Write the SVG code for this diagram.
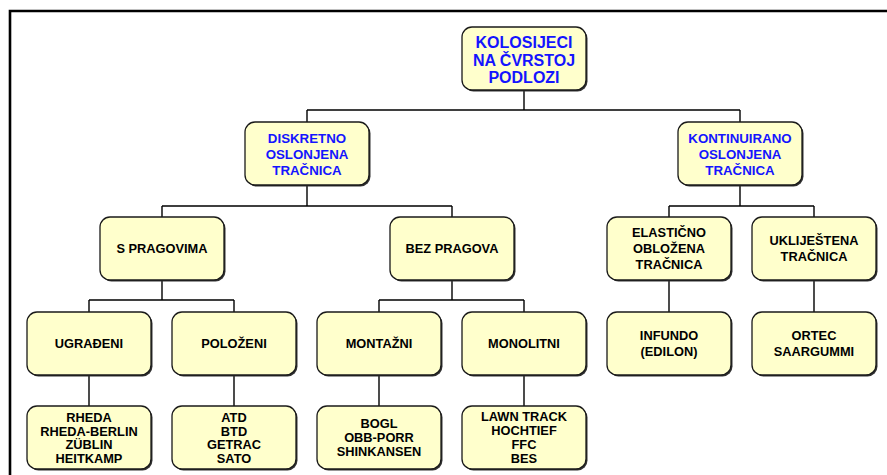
<svg xmlns="http://www.w3.org/2000/svg" width="887" height="475" viewBox="0 0 887 475">
<style>
.sh{fill:#333333}
.bx{fill:#ffffcc;stroke:#1a1a1a;stroke-width:1.3}
.t{font-family:"Liberation Sans",Arial,sans-serif;font-weight:bold;font-size:12.8px;fill:#000;text-anchor:middle}
.b{fill:#1414ff;font-size:13.3px}
.top{font-size:16px}
.c{fill:none;stroke:#000;stroke-width:1.4}
</style>
<rect width="887" height="475" fill="#fff"/>
<path d="M10 475 V11 H887" fill="none" stroke="#000" stroke-width="2.6"/>
<g id="connectors" class="c">
<path d="M524 91 V110 M307 110 H740 M307 110 V122 M740 110 V122"/>
<path d="M307 185 V206 M162 206 H452 M162 206 V217 M452 206 V217"/>
<path d="M740 185 V206 M669 206 H814 M669 206 V217 M814 206 V217"/>
<path d="M162 280 V300 M89 300 H234 M89 300 V312 M234 300 V312"/>
<path d="M452 280 V300 M379 300 H524 M379 300 V312 M524 300 V312"/>
<path d="M669 280 V312 M814 280 V312"/>
<path d="M89 375 V406 M234 375 V406 M379 375 V406 M524 375 V406"/>
</g>
<g id="n-root"><rect class="sh" x="463.5" y="28.5" width="124" height="63" rx="10"/><rect class="bx" x="462" y="27" width="124" height="63" rx="10"/>
<text class="t b top" x="524" y="48">KOLOSIJECI</text><text class="t b top" x="524" y="65.5">NA ČVRSTOJ</text><text class="t b top" x="524" y="83">PODLOZI</text></g>
<g id="n-diskretno"><rect class="sh" x="246.5" y="123.5" width="124" height="63" rx="10"/><rect class="bx" x="245" y="122" width="124" height="63" rx="10"/>
<text class="t b" x="307" y="142.8">DISKRETNO</text><text class="t b" x="307" y="158.8">OSLONJENA</text><text class="t b" x="307" y="174.8">TRAČNICA</text></g>
<g id="n-kontinuirano"><rect class="sh" x="679.5" y="123.5" width="124" height="63" rx="10"/><rect class="bx" x="678" y="122" width="124" height="63" rx="10"/>
<text class="t b" x="740" y="142.8">KONTINUIRANO</text><text class="t b" x="740" y="158.8">OSLONJENA</text><text class="t b" x="740" y="174.8">TRAČNICA</text></g>
<g id="n-spragovima"><rect class="sh" x="101.5" y="218.5" width="124" height="63" rx="10"/><rect class="bx" x="100" y="217" width="124" height="63" rx="10"/>
<text class="t" x="162" y="253.3">S PRAGOVIMA</text></g>
<g id="n-bezpragova"><rect class="sh" x="391.5" y="218.5" width="124" height="63" rx="10"/><rect class="bx" x="390" y="217" width="124" height="63" rx="10"/>
<text class="t" x="452" y="253.3">BEZ PRAGOVA</text></g>
<g id="n-elasticno"><rect class="sh" x="608.5" y="218.5" width="124" height="63" rx="10"/><rect class="bx" x="607" y="217" width="124" height="63" rx="10"/>
<text class="t" x="669" y="237">ELASTIČNO</text><text class="t" x="669" y="253">OBLOŽENA</text><text class="t" x="669" y="269">TRAČNICA</text></g>
<g id="n-uklijestena"><rect class="sh" x="753.5" y="218.5" width="124" height="63" rx="10"/><rect class="bx" x="752" y="217" width="124" height="63" rx="10"/>
<text class="t" x="814" y="245.3">UKLIJEŠTENA</text><text class="t" x="814" y="261.3">TRAČNICA</text></g>
<g id="n-ugradeni"><rect class="sh" x="28.5" y="313.5" width="124" height="63" rx="10"/><rect class="bx" x="27" y="312" width="124" height="63" rx="10"/>
<text class="t" x="89" y="348.3">UGRAĐENI</text></g>
<g id="n-polozeni"><rect class="sh" x="173.5" y="313.5" width="124" height="63" rx="10"/><rect class="bx" x="172" y="312" width="124" height="63" rx="10"/>
<text class="t" x="234" y="348.3">POLOŽENI</text></g>
<g id="n-montazni"><rect class="sh" x="318.5" y="313.5" width="124" height="63" rx="10"/><rect class="bx" x="317" y="312" width="124" height="63" rx="10"/>
<text class="t" x="379" y="348.3">MONTAŽNI</text></g>
<g id="n-monolitni"><rect class="sh" x="463.5" y="313.5" width="124" height="63" rx="10"/><rect class="bx" x="462" y="312" width="124" height="63" rx="10"/>
<text class="t" x="524" y="348.3">MONOLITNI</text></g>
<g id="n-infundo"><rect class="sh" x="608.5" y="313.5" width="124" height="63" rx="10"/><rect class="bx" x="607" y="312" width="124" height="63" rx="10"/>
<text class="t" x="669" y="340">INFUNDO</text><text class="t" x="669" y="355.5">(EDILON)</text></g>
<g id="n-ortec"><rect class="sh" x="753.5" y="313.5" width="124" height="63" rx="10"/><rect class="bx" x="752" y="312" width="124" height="63" rx="10"/>
<text class="t" x="814" y="340">ORTEC</text><text class="t" x="814" y="355.5">SAARGUMMI</text></g>
<g id="n-rheda"><rect class="sh" x="28.5" y="407.5" width="124" height="63" rx="10"/><rect class="bx" x="27" y="406" width="124" height="63" rx="10"/>
<text class="t" x="89" y="422">RHEDA</text><text class="t" x="89" y="435.5">RHEDA-BERLIN</text><text class="t" x="89" y="449">ZÜBLIN</text><text class="t" x="89" y="462.5">HEITKAMP</text></g>
<g id="n-atd"><rect class="sh" x="173.5" y="407.5" width="124" height="63" rx="10"/><rect class="bx" x="172" y="406" width="124" height="63" rx="10"/>
<text class="t" x="234" y="422">ATD</text><text class="t" x="234" y="435.5">BTD</text><text class="t" x="234" y="449">GETRAC</text><text class="t" x="234" y="462.5">SATO</text></g>
<g id="n-bogl"><rect class="sh" x="318.5" y="407.5" width="124" height="63" rx="10"/><rect class="bx" x="317" y="406" width="124" height="63" rx="10"/>
<text class="t" x="379" y="428">BOGL</text><text class="t" x="379" y="442">OBB-PORR</text><text class="t" x="379" y="456">SHINKANSEN</text></g>
<g id="n-lawn"><rect class="sh" x="463.5" y="407.5" width="124" height="63" rx="10"/><rect class="bx" x="462" y="406" width="124" height="63" rx="10"/>
<text class="t" x="524" y="421">LAWN TRACK</text><text class="t" x="524" y="435">HOCHTIEF</text><text class="t" x="524" y="449">FFC</text><text class="t" x="524" y="463">BES</text></g>
</svg>
